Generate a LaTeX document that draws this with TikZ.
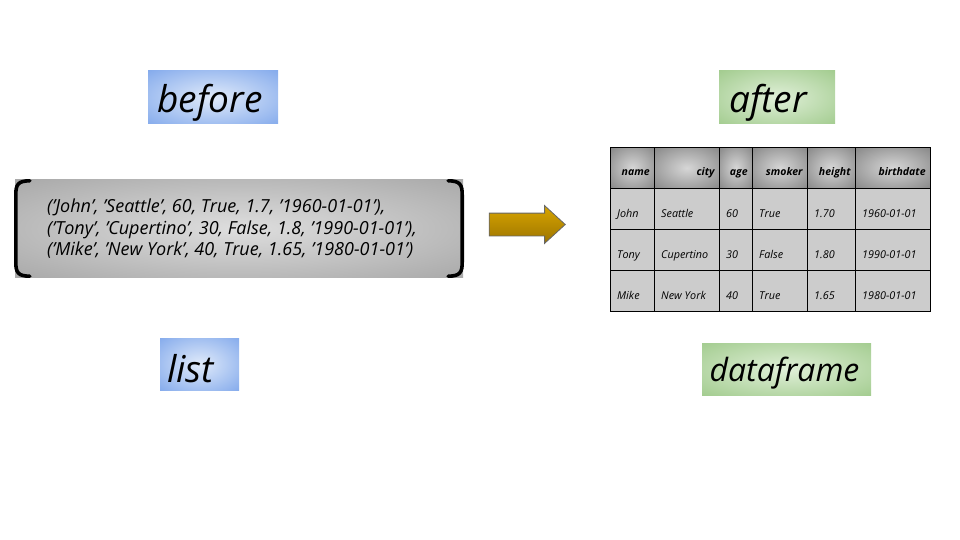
\documentclass[tikz,border=0pt]{standalone}
\usepackage{fontspec}
\setmainfont{Open Sans}
\usetikzlibrary{shapes.arrows,calc}

% soft radial fills for the label tags and the table header
\pgfdeclareradialshading{bluesoft}{\pgfpoint{0bp}{0bp}}{rgb(0bp)=(0.88,0.92,0.98); rgb(46bp)=(0.42,0.60,0.91); rgb(50bp)=(0.42,0.60,0.91)}
\pgfdeclareradialshading{greensoft}{\pgfpoint{0bp}{0bp}}{rgb(0bp)=(0.88,0.94,0.85); rgb(46bp)=(0.57,0.76,0.48); rgb(50bp)=(0.57,0.76,0.48)}
\pgfdeclareradialshading{graysoft}{\pgfpoint{0bp}{0bp}}{rgb(0bp)=(0.87,0.87,0.87); rgb(50bp)=(0.58,0.58,0.58)}
\pgfdeclareradialshading{hdrsoft}{\pgfpoint{0bp}{0bp}}{rgb(0bp)=(0.84,0.84,0.84); rgb(46bp)=(0.44,0.44,0.44); rgb(50bp)=(0.44,0.44,0.44)}

\definecolor{cellgray}{HTML}{CCCCCC}
\definecolor{goldtop}{HTML}{D8A500}
\definecolor{goldbot}{HTML}{9C7400}

\tikzset{
  tagbox/.style={inner sep=0pt},
  bluetag/.style={tagbox, shading=bluesoft},
  greentag/.style={tagbox, shading=greensoft},
  tagtext/.style={inner sep=0pt, font=\fontsize{37}{44}\selectfont\itshape},
  listbox/.style={shading=graysoft, inner sep=0pt, minimum width=448, minimum height=97},
  bracket/.style={line width=3.6pt, line cap=round},
  listtext/.style={align=left, inner sep=0pt, font=\fontsize{18}{21.5}\selectfont\itshape},
  hdrcell/.style={draw=black, line width=0.8pt, shading=hdrsoft, inner sep=0pt, minimum height=41},
  bodycell/.style={draw=black, line width=0.8pt, fill=cellgray, inner sep=0pt, minimum height=41},
  hdrtext/.style={inner sep=0pt, font=\fontsize{10.5}{12}\selectfont\bfseries\itshape},
  celltext/.style={inner sep=0pt, font=\fontsize{10.8}{12}\selectfont\itshape},
  bigarrow/.style={single arrow, draw=black!60, line width=0.8pt,
    top color=goldtop, bottom color=goldbot, minimum height=76,
    single arrow head extend=7.5, single arrow tip angle=85, inner sep=0pt}
}

\begin{document}
\begin{tikzpicture}[x=1pt,y=-1pt]
\useasboundingbox (0,0) rectangle (960,540);

% labels
\node[bluetag, minimum width=130, minimum height=53] (before) at (213,97.5) {};
\node[tagtext] (beforetext) at ($(before.center)+(-3,5)$) {before};
\node[bluetag, minimum width=79, minimum height=52] (listlabel) at (199.5,364) {};
\node[tagtext] (listtext) at ($(listlabel.center)+(-9,5)$) {list};
\node[greentag, minimum width=116, minimum height=53] (after) at (777,97.5) {};
\node[tagtext] (aftertext) at ($(after.center)+(-9,5)$) {after};
\node[greentag, minimum width=169, minimum height=52] (dflabel) at (786.5,369) {};
\node[tagtext, font=\fontsize{32}{40}\selectfont\itshape] (dftext) at ($(dflabel.center)+(-2,4)$) {dataframe};

% list of tuples
\node[listbox] (list) at (239,228.5) {};
\draw[bracket] ($(list.north west)+(15,1)$) .. controls ($(list.north west)+(3,1)$) and ($(list.north west)+(1,5)$) .. ($(list.north west)+(1,15)$)
  -- ($(list.south west)+(1,-15)$) .. controls ($(list.south west)+(1,-5)$) and ($(list.south west)+(3,-1)$) .. ($(list.south west)+(15,-1)$);
\draw[bracket] ($(list.north east)+(-15,1)$) .. controls ($(list.north east)+(-3,1)$) and ($(list.north east)+(-1,5)$) .. ($(list.north east)+(-1,15)$)
  -- ($(list.south east)+(-1,-15)$) .. controls ($(list.south east)+(-1,-5)$) and ($(list.south east)+(-3,-1)$) .. ($(list.south east)+(-15,-1)$);
\node[listtext, anchor=west] (tuples) at (47,229) {('John', 'Seattle', 60, True, 1.7, '1960-01-01'),\\('Tony', 'Cupertino', 30, False, 1.8, '1990-01-01'),\\('Mike', 'New York', 40, True, 1.65, '1980-01-01')};

% conversion arrow
\node[bigarrow] (conv) at (521,224.5) {\rule{0pt}{22pt}};

% dataframe table: header row
\foreach \j/\xa/\xb/\t in {1/610/654/name, 2/654/719/city, 3/719/752/age, 4/752/807/smoker, 5/807/855/height, 6/855/930/birthdate} {
  \node[hdrcell, minimum width=\xb-\xa, anchor=north west] (h\j) at (\xa,147) {};
  \node[hdrtext, anchor=base east] (ht\j) at ($(h\j.east)+(-5,8)$) {\t};
}
% dataframe table: body rows
\foreach \r/\y/\a/\b/\c/\d/\e/\f in {1/188/John/Seattle/60/True/1.70/1960-01-01, 2/229/Tony/Cupertino/30/False/1.80/1990-01-01, 3/270/Mike/New York/40/True/1.65/1980-01-01} {
  \foreach \j/\xa/\xb/\v in {1/610/654/\a, 2/654/719/\b, 3/719/752/\c, 4/752/807/\d, 5/807/855/\e, 6/855/930/\f} {
    \node[bodycell, minimum width=\xb-\xa, anchor=north west] (c\r\j) at (\xa,\y) {};
    \node[celltext, anchor=base west] (ct\r\j) at ($(c\r\j.west)+(7,8.5)$) {\v};
  }
}
\end{tikzpicture}
\end{document}
